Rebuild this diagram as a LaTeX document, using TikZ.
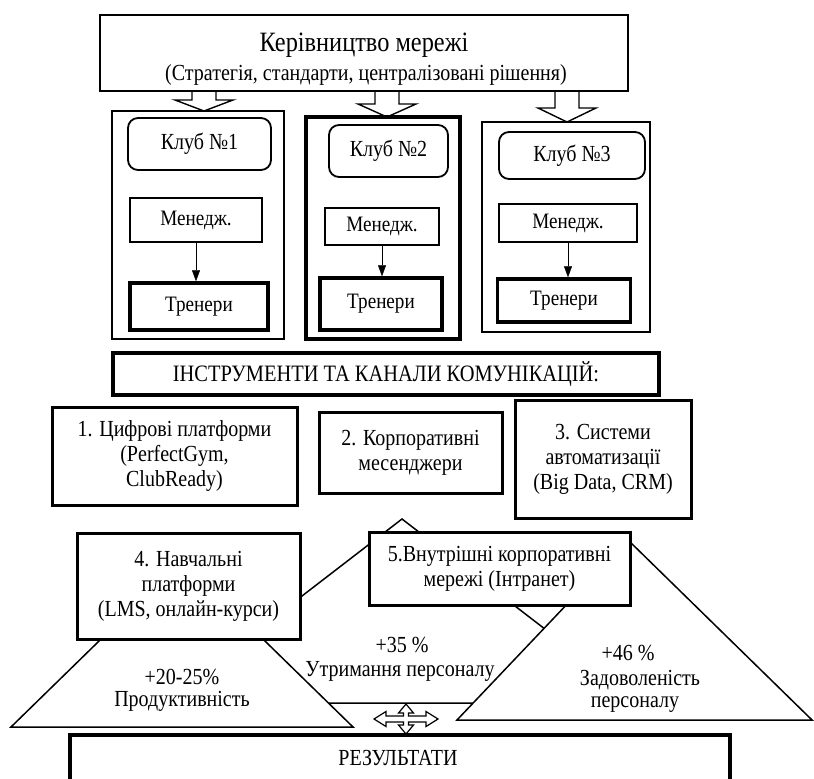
\documentclass[tikz,border=0pt]{standalone}
\usepackage{fontspec}
\setmainfont{Liberation Serif}[FakeStretch=0.87]
\usetikzlibrary{arrows.meta}
\newcommand\fs[2]{\fontsize{#1}{#2}\selectfont}
\begin{document}
\begin{tikzpicture}[x=1pt, y=-1pt, >={Triangle[length=11pt,width=8pt]},
	every node/.style={inner sep=0pt, align=center, font=\fs{23}{25}},
	box/.style={draw, fill=white, line width=3pt},
	thinbox/.style={draw, fill=white, line width=1.2pt},
	clubbox/.style={draw, line width=2.5pt},
	namebox/.style={draw, fill=white, line width=1.8pt, rounded corners=10pt},
	blockarrow/.style={draw, fill=white, line width=1.4pt, line join=miter},
	tri/.style={draw, fill=white, line width=1.5pt, line join=miter}]
	\useasboundingbox (0,0) rectangle (814,779);
	% block arrows from the top box
	\draw[blockarrow] (192,88) -- (216,88) -- (216,100) -- (233,100) -- (204,111) -- (175,100) -- (192,100) -- cycle;
	\draw[blockarrow] (375,88) -- (399,88) -- (399,104) -- (416,104) -- (387,117) -- (358,104) -- (375,104) -- cycle;
	\draw[blockarrow] (555,88) -- (579,88) -- (579,108) -- (596,108) -- (567,122) -- (538,108) -- (555,108) -- cycle;
	\node[box, line width=2.5pt, minimum width=528pt, minimum height=76pt] (mgmt) at (364,53) {};
	\node (mgmtT) at (364,45) {\fs{28}{30}Керівництво мережі};
	\node (mgmtS) at (366,75) {(Стратегія, стандарти, централізовані рішення)};
	% clubs
	\node[clubbox, minimum width=172pt, minimum height=228pt] (club1) at (198,225) {};
	\node[namebox, minimum width=143pt, minimum height=52pt] (k1) at (199.5,144) {Клуб №1};
	\node[thinbox, minimum width=132pt, minimum height=44pt] (m1) at (196,220) {\fs{22}{24}Менедж.};
	\node[box, line width=3.5pt, minimum width=138pt, minimum height=47pt] (t1) at (199,306.5) {\fs{22}{24}Тренери};
	\draw[->] (m1.south) -- (m1.south |- t1.north);
	\node[clubbox, line width=3.5pt, minimum width=154pt, minimum height=222pt] (club2) at (383,228) {};
	\node[namebox, minimum width=119pt, minimum height=52pt] (k2) at (388.5,151) {Клуб №2};
	\node[thinbox, minimum width=114pt, minimum height=37pt] (m2) at (382,226.5) {\fs{22}{24}Менедж.};
	\node[box, line width=3.5pt, minimum width=122pt, minimum height=52pt] (t2) at (381,304) {\fs{22}{24}Тренери};
	\draw[->] (m2.south) -- (m2.south |- t2.north);
	\node[clubbox, minimum width=168pt, minimum height=210pt] (club3) at (566,227) {};
	\node[namebox, minimum width=146pt, minimum height=47pt] (k3) at (572,155.5) {Клуб №3};
	\node[thinbox, minimum width=138pt, minimum height=38pt] (m3) at (568,223) {\fs{22}{24}Менедж.};
	\node[box, line width=3.5pt, minimum width=133pt, minimum height=43pt] (t3) at (564,300.5) {\fs{22}{24}Тренери};
	\draw[->] (m3.south) -- (m3.south |- t3.north);
	% tools
	\node[box, line width=3.5pt, minimum width=546pt, minimum height=42pt] (tools) at (386,374) {\fs{23.5}{26}ІНСТРУМЕНТИ ТА КАНАЛИ КОМУНІКАЦІЙ:};
	\node[box, minimum width=245pt, minimum height=98pt] (p1) at (174.5,456) {1. Цифрові платформи\\(PerfectGym,\\ClubReady)};
	\node[box, minimum width=183pt, minimum height=81pt] (p2) at (410.5,452.5) {2. Корпоративні\\месенджери};
	\node[box, minimum width=176pt, minimum height=118pt] (p3) at (603,459) {3. Системи\\автоматизації\\(Big Data, CRM)};
	% results
	\draw[tri] (402,519) -- (641,703) -- (163,703) -- cycle;
	\draw[tri] (182,560) -- (353,727) -- (11,727) -- cycle;
	\draw[tri] (628,540) -- (812,720) -- (457,720) -- cycle;
	\node (r2) at (402,645) {+35 \%};
	\node (r2b) at (400,671) {Утримання персоналу};
	\node (r1) at (182,677) {+20-25\%};
	\node (r1b) at (182,701) {Продуктивність};
	\node (r3) at (628,653) {+46 \%};
	\node (r3b) at (640,680) {Задоволеність};
	\node (r3c) at (635,705) {персоналу};
	\node[box, minimum width=223pt, minimum height=106pt] (p4) at (188.5,586) {4. Навчальні\\платформи\\(LMS, онлайн-курси)};
	\node[box, minimum width=261pt, minimum height=73pt] (p5) at (499.5,568.5) {5.Внутрішні корпоративні\\мережі (Інтранет)};
	\begin{scope}[shift={(406,719)}]
		\draw[blockarrow, line width=1.2pt] (32,0) -- (20,-7.5) -- (20,-3) -- (2.5,-3) -- (2.5,-6) -- (7.5,-6) -- (0,-15) -- (-7.5,-6) -- (-2.5,-6) -- (-2.5,-3) -- (-20,-3) -- (-20,-7.5) -- (-32,0) -- (-20,7.5) -- (-20,3) -- (-2.5,3) -- (-2.5,6) -- (-7.5,6) -- (0,15) -- (7.5,6) -- (2.5,6) -- (2.5,3) -- (20,3) -- (20,7.5) -- cycle;
	\end{scope}
	\node[box, line width=3.5pt, minimum width=660pt, minimum height=80pt] (res) at (400,775) {};
	\node (resT) at (398,758) {РЕЗУЛЬТАТИ};
\end{tikzpicture}
\end{document}
